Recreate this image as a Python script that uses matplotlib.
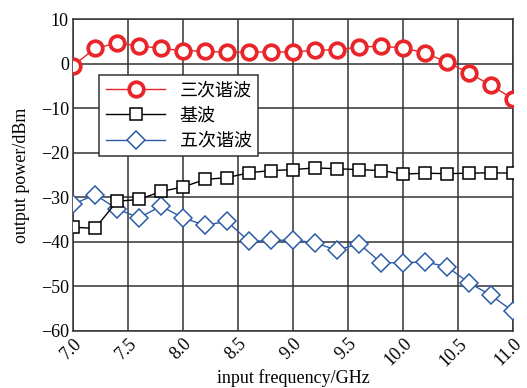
import matplotlib
matplotlib.use("Agg")
import matplotlib.pyplot as plt

# 数据
freq = [7.0, 7.2, 7.4, 7.6, 7.8, 8.0, 8.2, 8.4, 8.6, 8.8, 9.0,
        9.2, 9.4, 9.6, 9.8, 10.0, 10.2, 10.4, 10.6, 10.8, 11.0]
third = [-0.5, 3.4, 4.6, 4.0, 3.4, 2.9, 2.8, 2.5, 2.6, 2.6, 2.6,
         3.0, 3.1, 3.7, 3.9, 3.5, 2.4, 0.3, -2.1, -4.9, -7.9]
fund = [-36.7, -37.0, -30.9, -30.5, -28.7, -27.7, -26.0, -25.6, -24.5, -24.0, -23.8,
        -23.4, -23.6, -23.8, -24.0, -24.8, -24.6, -24.7, -24.6, -24.5, -24.6]
fifth = [-31.6, -29.4, -32.6, -34.6, -32.0, -34.6, -36.3, -35.4, -39.9, -39.7, -39.6,
         -40.2, -41.9, -40.4, -44.7, -44.7, -44.5, -45.6, -49.2, -52.0, -55.6]
names = ["三次谐波", "基波", "五次谐波"]
xticks = [7.0, 7.5, 8.0, 8.5, 9.0, 9.5, 10.0, 10.5, 11.0]
yticks = [-60, -50, -40, -30, -20, -10, 0, 10]

plt.rcParams['font.family'] = ['Liberation Serif', 'Noto Sans CJK SC']

fig = plt.figure(figsize=(5.27, 3.88), dpi=100)
ax = fig.add_axes([0.1385, 0.147, 0.835, 0.804])

ax.plot(freq, third, color='#e8262a', lw=1.0, marker='o', ms=10.5,
        mfc='white', mec='#e8262a', mew=2.7, label=names[0], zorder=5)
ax.plot(freq, fund, color='black', lw=1.0, marker='s', ms=9,
        mfc='white', mec='black', mew=1.1, label=names[1], zorder=4)
ax.plot(freq, fifth, color='#2c5ca8', lw=1.0, marker='D', ms=9,
        mfc='white', mec='#2c5ca8', mew=1.1, label=names[2], zorder=3)

ax.set_xlim(7.0, 11.0)
ax.set_ylim(-60, 10)
ax.set_xticks(xticks)
ax.set_xticklabels([f"{t:.1f}" for t in xticks], rotation=45, ha='right',
                   rotation_mode='anchor', fontsize=13)
ax.set_yticks(yticks)
ax.set_yticklabels([str(t).replace('-', '\u2212') for t in yticks], fontsize=13)
ax.tick_params(length=0, pad=3)
ax.grid(True, color='#333333', lw=1.1)
for s in ax.spines.values():
    s.set_color('#333333')
    s.set_linewidth(1.1)

ax.set_xlabel("input frequency/GHz", fontsize=13, labelpad=0)
ax.set_ylabel("output power/dBm", fontsize=13, labelpad=8)

leg = ax.legend(loc='upper left', bbox_to_anchor=(0.06, 0.82), fontsize=13,
                frameon=True, fancybox=False, edgecolor='#333333',
                framealpha=1, handlelength=3.3, borderpad=0.35,
                labelspacing=0.4, borderaxespad=0)
leg.get_frame().set_linewidth(1.1)
for t in leg.get_texts():
    t.set_family(['Noto Sans CJK SC'])

fig.savefig("out.png", dpi=100)
